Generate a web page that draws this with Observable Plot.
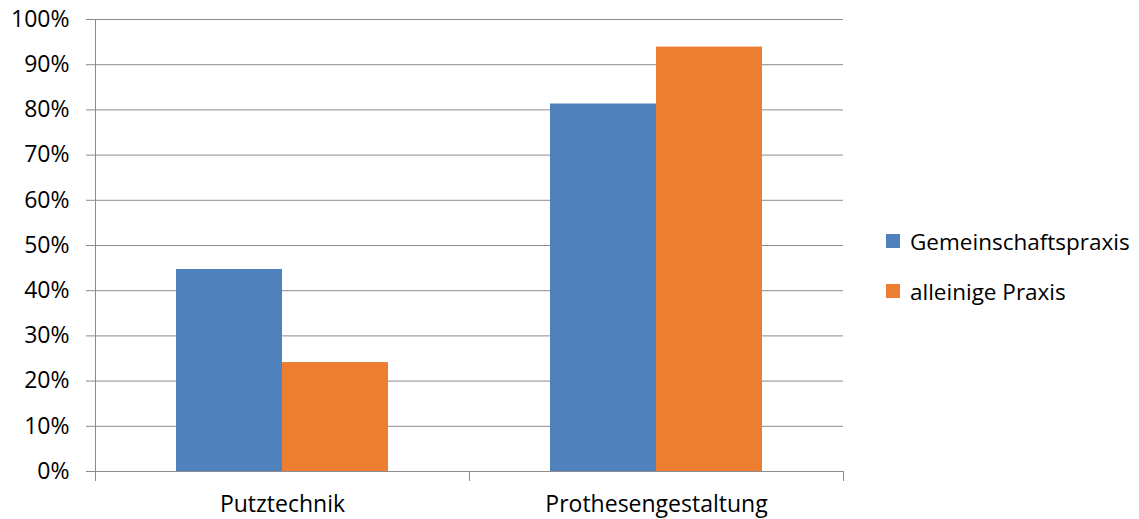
<!DOCTYPE html>
<html>
<head>
<meta charset="utf-8">
<script src="https://cdn.jsdelivr.net/npm/d3@7"></script>
<script src="https://cdn.jsdelivr.net/npm/@observablehq/plot@0.6"></script>
<style>
  html, body { margin: 0; padding: 0; background: #fff; }
  #wrap { position: relative; width: 1139px; height: 519px; font-family: "Open Sans", sans-serif; }
  #legend { position: absolute; left: 886px; top: 216px; font-size: 22.5px; color: #000; }
  .row { display: flex; align-items: center; height: 50px; }
  .sw { width: 14px; height: 14px; margin-right: 10px; }
</style>
</head>
<body>
<div id="wrap"><div id="legend"></div></div>
<script>
// Categories, series and values
const categories = ["Putztechnik", "Prothesengestaltung"];
const seriesNames = ["Gemeinschaftspraxis", "alleinige Praxis"];
const gemeinschaftspraxis = [0.447, 0.813];
const alleinigePraxis = [0.241, 0.939];
const yTicks = [0, 0.1, 0.2, 0.3, 0.4, 0.5, 0.6, 0.7, 0.8, 0.9, 1.0];
const colors = ["#4F81BD", "#ED7D31"];

const data = categories.flatMap((c, i) => [
  {category: c, series: seriesNames[0], value: gemeinschaftspraxis[i]},
  {category: c, series: seriesNames[1], value: alleinigePraxis[i]}
]);

const width = 1139, height = 519;
const marginTop = 19, marginBottom = 48, marginLeft = 95, marginRight = 296;
const plotHeight = height - marginTop - marginBottom;
const gridColor = "#8c8c8c";
const fontSize = 23;

const chart = Plot.plot({
  width, height, marginTop, marginBottom, marginLeft, marginRight,
  style: {fontFamily: "Open Sans, sans-serif", fontSize: `${fontSize}px`, color: "#000", background: "#fff"},
  fx: {domain: categories, padding: 0, label: null},
  x: {domain: seriesNames, paddingInner: 0, paddingOuter: 0.748, axis: null},
  y: {domain: [0, 1], label: null},
  color: {domain: seriesNames, range: colors},
  marks: [
    // horizontal gridlines
    Plot.ruleY(yTicks, {stroke: gridColor, strokeWidth: 1}),
    // bars
    Plot.barY(data, {fx: "category", x: "series", y: "value", fill: "series"}),
    // vertical axis line on the left
    Plot.frame({anchor: "left", insetBottom: -9, stroke: gridColor, facetAnchor: "left"}),
    // category separator ticks below the baseline
    Plot.frame({anchor: "left", insetTop: plotHeight, insetBottom: -9, stroke: gridColor}),
    Plot.frame({anchor: "right", insetTop: plotHeight, insetBottom: -9, stroke: gridColor}),
    Plot.axisY({ticks: yTicks, tickFormat: d3.format(".0%"), tickSize: 9, tickPadding: 17,
                stroke: gridColor, fill: "#000", label: null, fontSize}),
    Plot.axisFx({anchor: "bottom", tickSize: 0, tickPadding: 24, label: null, fill: "#000", fontSize})
  ]
});

document.getElementById("wrap").prepend(chart);

// Legend
const legend = d3.select("#legend");
seriesNames.forEach((name, i) => {
  const row = legend.append("div").attr("class", "row");
  row.append("div").attr("class", "sw").style("background", colors[i]);
  row.append("span").text(name);
});
</script>
</body>
</html>
